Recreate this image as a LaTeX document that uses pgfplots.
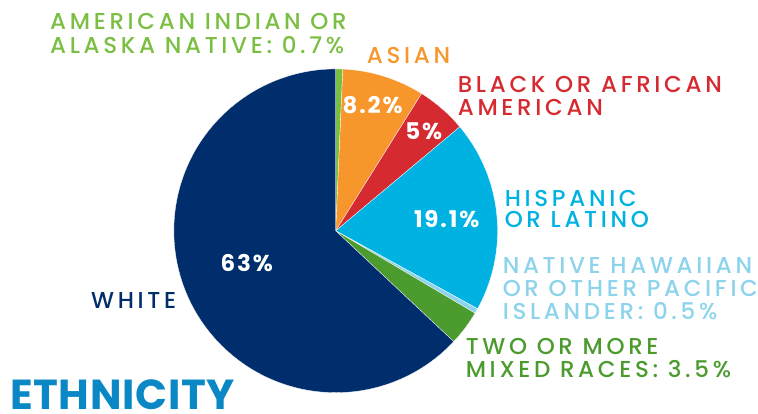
\documentclass[border=0pt]{standalone}
\usepackage{pgfplots}
\usepackage{pgfplotstable}
\pgfplotsset{compat=1.18}
\usepackage{fontspec}
\setmainfont{Poppins}
\newfontfamily\labfont[LetterSpace=16]{Poppins Medium}
\newfontfamily\pctfont[LetterSpace=8]{Poppins}
\newfontfamily\titfont[LetterSpace=1.5]{Poppins}
\definecolor{cAI}{HTML}{7BBF42}
\definecolor{cAsian}{HTML}{F7962B}
\definecolor{cBlack}{HTML}{D52A30}
\definecolor{cHisp}{HTML}{00B2E2}
\definecolor{cNH}{HTML}{8CD3EB}
\definecolor{cTwo}{HTML}{4C9B2F}
\definecolor{cWhite}{HTML}{002D6B}
\definecolor{cTitle}{HTML}{0A88C5}
\pgfplotstableread[col sep=comma]{
name,pct,color
AI,0.7,cAI
Asian,8.2,cAsian
Black,5,cBlack
Hispanic,19.1,cHisp
NH,0.5,cNH
Two,3.5,cTwo
White,63,cWhite
}\ethn
\newcommand\lab{\labfont\fontsize{23}{26}\selectfont}
\newcommand\pct{\pctfont\fontsize{23}{26}\selectfont\bfseries}
\begin{document}
\begin{tikzpicture}
\begin{axis}[
  width=758pt, height=414pt, scale only axis,
  xmin=0, xmax=758, ymin=0, ymax=414,
  hide axis, clip=false]
\path (axis cs:0,0) rectangle (axis cs:758,414);
\def\start{90}
\pgfplotsforeachungrouped \i in {0,...,6}{%
  \pgfplotstablegetelem{\i}{pct}\of\ethn \let\p\pgfplotsretval
  \pgfplotstablegetelem{\i}{color}\of\ethn \let\c\pgfplotsretval
  \pgfmathsetmacro\stop{\start-3.6*\p}%
  \edef\temp{\noexpand\fill[\c, draw=white, line width=0.3pt] (axis cs:336,183) -- ++(\start:162pt) arc[start angle=\start, end angle=\stop, radius=162pt] -- cycle;}%
  \temp
  \global\let\start\stop
}
% labels
\node[anchor=base west, text=cAI, inner sep=0] at (axis cs:50,384) {\lab AMERICAN INDIAN OR};
\node[anchor=base west, text=cAI, inner sep=0] at (axis cs:50,360) {\lab ALASKA NATIVE: 0.7\%};
\node[anchor=base west, text=cAsian, inner sep=0] at (axis cs:367,350) {\lab ASIAN};
\node[anchor=base west, text=cBlack, inner sep=0] at (axis cs:458,321) {\lab BLACK OR AFRICAN};
\node[anchor=base west, text=cBlack, inner sep=0] at (axis cs:458,298) {\lab AMERICAN};
\node[anchor=base west, text=cHisp, inner sep=0] at (axis cs:505,207) {\lab HISPANIC};
\node[anchor=base west, text=cHisp, inner sep=0] at (axis cs:505,186) {\lab OR LATINO};
\node[anchor=base west, text=cNH, inner sep=0] at (axis cs:503,140) {\lab NATIVE HAWAIIAN};
\node[anchor=base west, text=cNH, inner sep=0] at (axis cs:503,117) {\lab OR OTHER PACIFIC};
\node[anchor=base west, text=cNH, inner sep=0] at (axis cs:503,94) {\lab ISLANDER: 0.5\%};
\node[anchor=base west, text=cTwo, inner sep=0] at (axis cs:466,59) {\lab TWO OR MORE};
\node[anchor=base west, text=cTwo, inner sep=0] at (axis cs:466,36) {\lab MIXED RACES: 3.5\%};
\node[anchor=base west, text=cWhite, inner sep=0] at (axis cs:91,105) {\lab WHITE};
\node[anchor=base west, text=cTitle, inner sep=0] at (axis cs:10,4.5) {\titfont\fontsize{42}{46}\selectfont\bfseries ETHNICITY};
% percentages
\node[text=white, inner sep=0] at (axis cs:373,309) {\pct 8.2\%};
\node[text=white, inner sep=0] at (axis cs:424,283) {\pct 5\%};
\node[text=white, inner sep=0] at (axis cs:447,195) {\pct 19.1\%};
\node[text=white, inner sep=0] at (axis cs:247,151) {\pct 63\%};
\end{axis}
\end{tikzpicture}
\end{document}
